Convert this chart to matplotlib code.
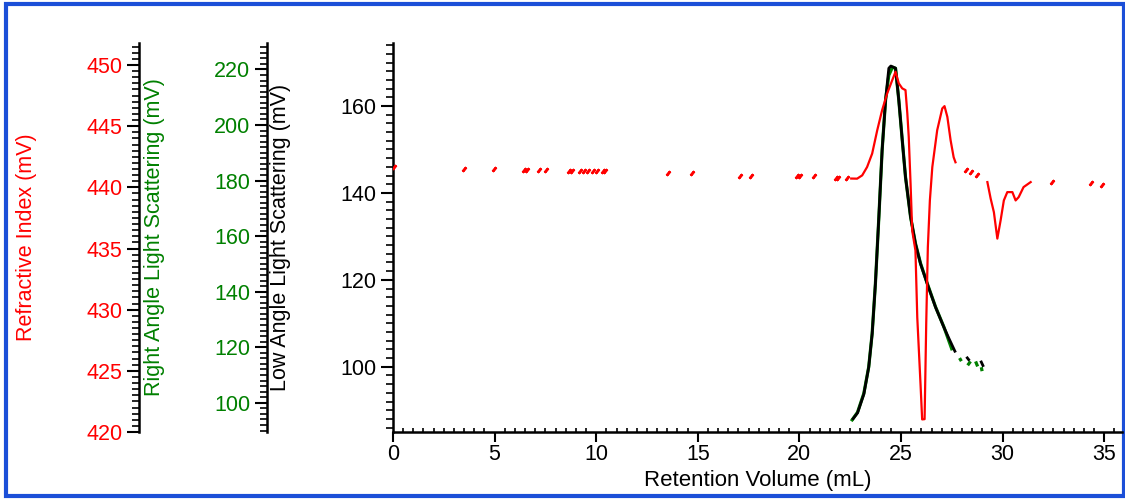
import numpy as np
import matplotlib
matplotlib.use("Agg")
import matplotlib.pyplot as plt
from matplotlib.ticker import MultipleLocator
from matplotlib.patches import Rectangle

plt.rcParams['font.family'] = ['Liberation Sans', 'DejaVu Sans']

nan = np.nan

# Low angle light scattering (black, main axis, mV)
lals_x = [22.60, 22.86, 23.17, 23.41, 23.58, 23.74, 23.91, 24.07, 24.24, 24.40, 24.50,
          24.73, 24.89, 25.06, 25.22, 25.47, 25.71, 25.96, 26.29, 26.70, 27.11, 27.36, 27.68,
          nan, 28.22, 28.37, nan, 28.92, 29.06]
lals_y = [87.8, 89.4, 93.7, 99.9, 107.6, 119.1, 134.5, 149.8, 161.4, 168.7, 169.2,
          168.7, 161.4, 152.2, 143.7, 134.5, 128.3, 123.7, 119.1, 113.7, 109.1, 106.5, 103.3,
          nan, 102.3, 101.4, nan, 101.4, 100.0]

# Right angle light scattering (green, mV)
rals_x = [22.55, 22.86, 23.17, 23.41, 23.58, 23.74, 23.91, 24.07, 24.24, 24.40, 24.58,
          24.73, 24.89, 25.06, 25.22, 25.47, 25.71, 25.96, 26.29, 26.70, 27.11, 27.52,
          nan, 27.88, 27.97, nan, 28.28, 28.42, nan, 28.67, 28.77, nan, 28.95, 28.99]
rals_y = [93.4, 96.6, 103.4, 112.9, 125.0, 143.0, 166.9, 190.9, 209.0, 217.9, 220.8,
          220.4, 209.0, 194.6, 181.3, 166.9, 157.4, 150.2, 143.0, 134.5, 127.3, 118.9,
          nan, 116.1, 115.0, nan, 113.5, 114.9, nan, 114.9, 113.1, nan, 112.8, 111.4]

# Refractive index (red, mV) - continuous parts
ri_x = [22.55, 22.84, 23.09, 23.33, 23.58, 23.83, 24.07, 24.32, 24.57, 24.73, 24.89,
        25.06, 25.22, 25.31, 25.38, 25.47, 25.55, 25.71, 25.80, 25.96, 26.04, 26.16,
        26.24, 26.32, 26.42, 26.54, 26.78, 27.03, 27.14, 27.28, 27.44, 27.59, 27.68,
        nan, 29.25, 29.41, 29.57, 29.74, 29.90, 30.06, 30.23, 30.48, 30.64, 30.79,
        31.03, 31.38]
ri_y = [440.72, 440.71, 440.98, 441.66, 442.76, 444.67, 446.31, 447.68, 448.77, 449.45,
        448.50, 448.09, 447.95, 446.04, 444.12, 440.30, 436.47, 434.83, 429.36, 423.90,
        421.03, 421.05, 428.84, 435.10, 438.93, 441.66, 444.67, 446.45, 446.64, 445.76,
        443.85, 442.46, 442.05, nan, 440.43, 439.09, 437.97, 435.81, 437.29, 438.93,
        439.61, 439.61, 438.93, 439.20, 440.02, 440.43]

# Refractive index - sparse baseline points
ri_pts_x = [0.05, 3.5, 4.95, 6.45, 6.6, 7.2, 7.55, 8.65, 8.8, 9.2, 9.4, 9.6, 9.85,
            10.05, 10.35, 10.45, 13.55, 14.7, 17.1, 17.6, 19.9, 20.05, 20.7, 21.8,
            21.9, 22.35, 28.18, 28.42, 28.75, 32.45, 34.33, 34.91]
ri_pts_y = [441.64, 441.47, 441.47, 441.40, 441.40, 441.38, 441.38, 441.31, 441.31,
            441.31, 441.31, 441.31, 441.31, 441.31, 441.31, 441.31, 441.14, 441.14,
            440.94, 440.94, 440.92, 440.92, 440.90, 440.76, 440.76, 440.73, 441.39,
            441.23, 440.98, 440.43, 440.35, 440.16]

W, H = 1125, 499
fig = plt.figure(figsize=(W / 100, H / 100), dpi=100)
ax = fig.add_axes([393 / W, 1 - 432 / H, (1121.5 - 393) / W, (432 - 43) / H])
rals = ax.twinx()
ri = ax.twinx()

# draw order: green under black, red on top
rals.set_zorder(1)
ax.set_zorder(2)
ri.set_zorder(3)
ax.patch.set_visible(False)

rals.plot(rals_x, rals_y, color='#008000', lw=2.3, solid_capstyle='butt')
ax.plot(lals_x, lals_y, color='black', lw=2.0, solid_capstyle='butt')
ri.plot(ri_x, ri_y, color='red', lw=1.6)
ri.plot(ri_pts_x, ri_pts_y, ls='none', marker=(2, 2, -40), ms=4, mew=1.8, color='red')

ax.set_xlim(0, 35.85)
ax.set_ylim(85, 174.5)
rals.set_ylim(89.5, 229.5)
ri.set_ylim(420, 451.8)

fs = 15.5
# main axis
for s in ['top', 'right']:
    ax.spines[s].set_visible(False)
for s in ['left', 'bottom']:
    ax.spines[s].set_linewidth(1.8)
ax.xaxis.set_major_locator(MultipleLocator(5))
ax.xaxis.set_minor_locator(MultipleLocator(0.5))
ax.yaxis.set_major_locator(MultipleLocator(20))
ax.yaxis.set_minor_locator(MultipleLocator(2))
ax.tick_params(axis='x', which='major', direction='out', length=7, width=1.5, labelsize=fs, pad=2)
ax.tick_params(axis='x', which='minor', direction='in', length=3, width=1.2)
ax.tick_params(axis='y', which='major', direction='out', length=9, width=1.5, labelsize=fs, pad=3)
ax.tick_params(axis='y', which='minor', direction='out', length=5, width=1.2)
ax.set_xlabel('Retention Volume (mL)', fontsize=16, labelpad=3)
ax.set_ylabel('Low Angle Light Scattering (mV)', fontsize=fs, color='black', va='center')
ax.yaxis.set_label_coords(-0.155, 0.5)

# offset left axes
for tw, pos, lbl, col, major, minor, lx in [
        (rals, -0.1733, 'Right Angle Light Scattering (mV)', '#008000', 20, 2, -0.328),
        (ri, -0.3484, 'Refractive Index (mV)', 'red', 5, 0.5, -0.503)]:
    for s in ['top', 'right', 'bottom']:
        tw.spines[s].set_visible(False)
    tw.spines['left'].set_visible(True)
    tw.spines['left'].set_position(('axes', pos))
    tw.spines['left'].set_linewidth(1.8)
    tw.yaxis.tick_left()
    tw.yaxis.set_label_position('left')
    tw.yaxis.set_major_locator(MultipleLocator(major))
    tw.yaxis.set_minor_locator(MultipleLocator(minor))
    tw.tick_params(axis='y', which='major', direction='out', length=9, width=1.5,
                   labelsize=fs, labelcolor=col, pad=3)
    tw.tick_params(axis='y', which='minor', direction='out', length=5, width=1.2)
    tw.set_ylabel(lbl, fontsize=fs, color=col, va='center')
    tw.yaxis.set_label_coords(lx, 0.5)

# blue frame around the whole picture
fig.add_artist(Rectangle((6 / W, 3.5 / H), (1123.5 - 6) / W, (497 - 3.5 - 2) / H,
                         transform=fig.transFigure, fill=False, ec='#1b4fd8', lw=3))

fig.savefig('out.png', dpi=100)
